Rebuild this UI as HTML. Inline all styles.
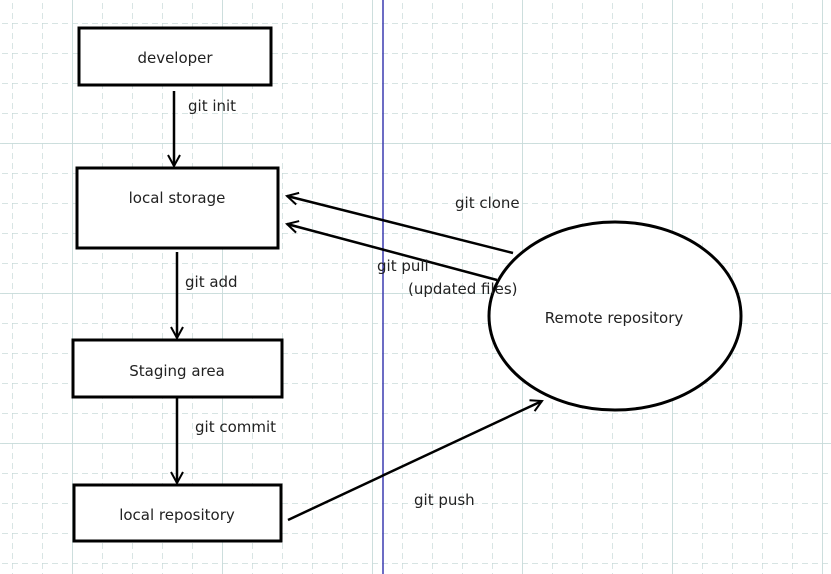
<!DOCTYPE html>
<html><head><meta charset="utf-8"><style>
html,body{margin:0;padding:0;background:#fff}
svg{display:block}
text{font-family:"DejaVu Sans","Liberation Sans",sans-serif;font-size:15px;fill:#222}
</style></head><body>
<svg width="831" height="574" viewBox="0 0 831 574" xmlns="http://www.w3.org/2000/svg">
<defs>
<pattern id="minor" x="12" y="23" width="30" height="30" patternUnits="userSpaceOnUse">
<path d="M0 0V30M0 0H30" stroke="#bfd3d2" stroke-width="1.2" stroke-dasharray="6,4" fill="none"/>
</pattern>
<pattern id="major" x="72" y="143" width="150" height="150" patternUnits="userSpaceOnUse">
<path d="M0 0V150M0 0H150" stroke="#c8dbda" stroke-width="1.8" fill="none"/>
</pattern>
<marker id="ah" markerWidth="14" markerHeight="14" refX="12" refY="7" orient="auto" markerUnits="userSpaceOnUse">
<path d="M1 1L12 7L1 13" fill="none" stroke="#000" stroke-width="2"/>
</marker>
</defs>
<rect width="831" height="574" fill="url(#minor)"/>
<rect width="831" height="574" fill="url(#major)"/>
<line x1="383" y1="0" x2="383" y2="574" stroke="#3b3bb0" stroke-width="1.5"/>
<g fill="#fff" stroke="#000" stroke-width="3">
<rect x="79" y="28" width="192" height="57"/>
<rect x="77" y="168" width="201" height="80"/>
<rect x="73" y="340" width="209" height="57"/>
<rect x="74" y="485" width="207" height="56"/>
<ellipse cx="615" cy="316" rx="126" ry="94"/>
</g>
<g stroke="#000" stroke-width="2.5" fill="none">
<line x1="174" y1="91" x2="174" y2="166" marker-end="url(#ah)"/>
<line x1="177" y1="252" x2="177" y2="338" marker-end="url(#ah)"/>
<line x1="177" y1="398" x2="177" y2="483" marker-end="url(#ah)"/>
<line x1="513" y1="253" x2="287" y2="196" marker-end="url(#ah)"/>
<line x1="497" y1="280" x2="287" y2="224" marker-end="url(#ah)"/>
<line x1="288" y1="520" x2="542" y2="401" marker-end="url(#ah)"/>
</g>
<text x="175" y="63" text-anchor="middle">developer</text>
<text x="177" y="203" text-anchor="middle">local storage</text>
<text x="177" y="376" text-anchor="middle">Staging area</text>
<text x="177" y="520" text-anchor="middle">local repository</text>
<text x="614" y="323" text-anchor="middle">Remote repository</text>
<text x="188" y="111">git init</text>
<text x="185" y="287">git add</text>
<text x="195" y="432">git commit</text>
<text x="455" y="208">git clone</text>
<text x="377" y="271">git pull</text>
<text x="408" y="294">(updated files)</text>
<text x="414" y="505">git push</text>
</svg>
</body></html>
